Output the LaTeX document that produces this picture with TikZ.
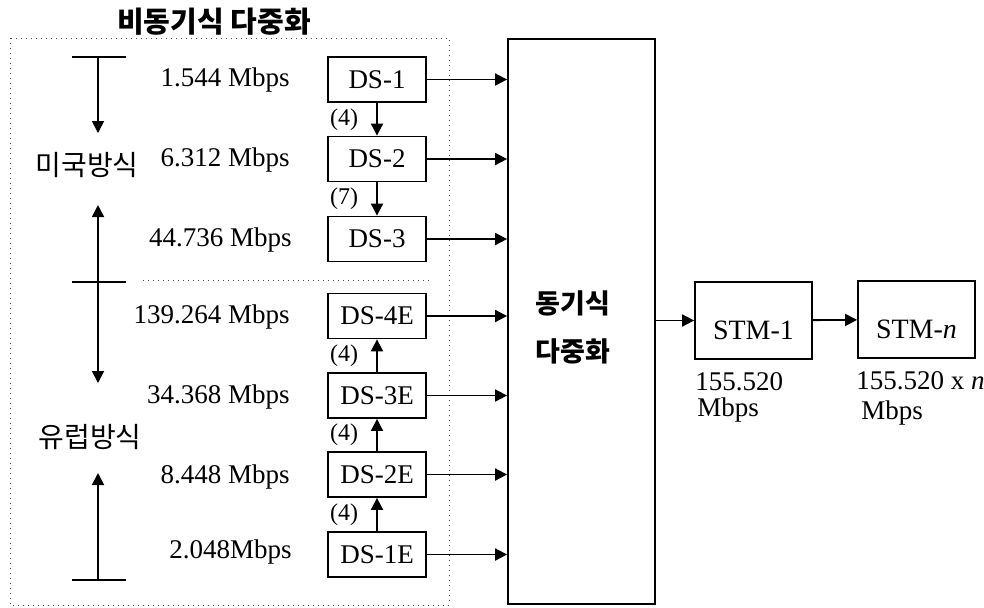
\documentclass[tikz,border=0pt]{standalone}
\usepackage{fontspec}
\setmainfont{Liberation Serif}
\newfontfamily\kr{Noto Sans CJK KR}
\usetikzlibrary{arrows.meta}
\begin{document}
\begin{tikzpicture}[x=0.5pt,y=-0.5pt,
 ds/.style={draw,line width=0.9pt,minimum width=49pt,minimum height=22.5pt,
            inner sep=0pt,font=\fontsize{13.5}{16}\selectfont},
 stm/.style={draw,line width=0.9pt,minimum width=58.5pt,minimum height=38.5pt,
             inner sep=0pt,text height=19pt,text depth=0pt,
             font=\fontsize{14}{16}\selectfont},
 rate/.style={anchor=east,inner sep=0pt,font=\fontsize{13.5}{16}\selectfont},
 speed/.style={anchor=base west,inner sep=0pt,font=\fontsize{13.5}{16}\selectfont},
 ratio/.style={inner sep=0pt,font=\fontsize{12}{14}\selectfont},
 krtxt/.style={inner sep=0pt,font=\kr\fontsize{14}{16}\selectfont},
 krbold/.style={inner sep=0pt,font=\kr\bfseries\fontsize{13.5}{15}\selectfont},
 arr/.style={line width=0.9pt,-{Triangle[length=6pt,width=6pt]}},
 bar/.style={line width=1pt},
 frame/.style={dotted,line width=0.5pt,black!70}]
 \useasboundingbox (0,0) rectangle (984,607);
 % asynchronous part
 \node[krbold,font=\kr\bfseries\fontsize{14.5}{16}\selectfont] (title) at (214,22) {비동기식 다중화};
 \draw[frame] (10,38) rectangle (449,605);
 \draw[frame] (143,280) -- (430,280);
 \node[ds] (ds1) at (377,79.5) {DS-1};
 \node[ds] (ds2) at (377,159) {DS-2};
 \node[ds] (ds3) at (377,239) {DS-3};
 \node[ds] (ds4e) at (377,316) {DS-4E};
 \node[ds] (ds3e) at (377,395.5) {DS-3E};
 \node[ds] (ds2e) at (377,474.5) {DS-2E};
 \node[ds] (ds1e) at (377,554.5) {DS-1E};
 \node[rate] (r1) at (290,80) {1.544 Mbps};
 \node[rate] (r2) at (290,160) {6.312 Mbps};
 \node[rate] (r3) at (292,240) {44.736 Mbps};
 \node[rate] (r4e) at (290,317) {139.264 Mbps};
 \node[rate] (r3e) at (290,397) {34.368 Mbps};
 \node[rate] (r2e) at (290,477) {8.448 Mbps};
 \node[rate] (r1e) at (292,552) {2.048Mbps};
 \draw[arr] (ds1) -- node[ratio,left=9pt] {(4)} (ds2);
 \draw[arr] (ds2) -- node[ratio,left=9pt] {(7)} (ds3);
 \draw[arr] (ds1e) -- node[ratio,left=9pt] {(4)} (ds2e);
 \draw[arr] (ds2e) -- node[ratio,left=9pt] {(4)} (ds3e);
 \draw[arr] (ds3e) -- node[ratio,left=9pt] {(4)} (ds4e);
 % american / european ranges
 \coordinate (ustop) at (98,57);
 \coordinate (usdown) at (98,133);
 \coordinate (mid) at (98,282);
 \coordinate (usup) at (98,205);
 \coordinate (eudown) at (98,383);
 \coordinate (euup) at (98,473);
 \coordinate (eubot) at (98,580);
 \foreach \c in {ustop,mid,eubot}
  \draw[bar] ([xshift=-13pt]\c) -- ([xshift=14pt]\c);
 \draw[arr] (ustop) -- (usdown);
 \draw[arr] (mid) -- (usup);
 \draw[arr] (mid) -- (eudown);
 \draw[arr] (eubot) -- (euup);
 \node[krtxt] (us) at (87,165) {미국방식};
 \node[krtxt] (eu) at (90,437) {유럽방식};
 % synchronous part
 \node[draw,line width=0.9pt,minimum width=73.5pt,minimum height=282.5pt] (sync) at (581.5,321.5) {};
 \node[krbold] (synca) at (573,303) {동기식};
 \node[krbold] (syncb) at (573,351) {다중화};
 \foreach \n in {ds1,ds2,ds3,ds4e,ds3e,ds2e,ds1e}
  \draw[arr] (\n.east) -- (\n.east -| sync.west);
 \node[stm] (stm1) at (753.5,320.5) {STM-1};
 \node[stm] (stmn) at (916.5,319.5) {STM-\textit{n}};
 \draw[arr] (sync.east |- stm1.west) -- (stm1.west);
 \draw[arr] (stm1) -- (stmn);
 \node[speed] (s1a) at (695,390) {155.520};
 \node[speed] (s1b) at (697,416) {Mbps};
 \node[speed] (sna) at (856,389) {155.520 x \textit{n}};
 \node[speed] (snb) at (861,419) {Mbps};
\end{tikzpicture}
\end{document}
